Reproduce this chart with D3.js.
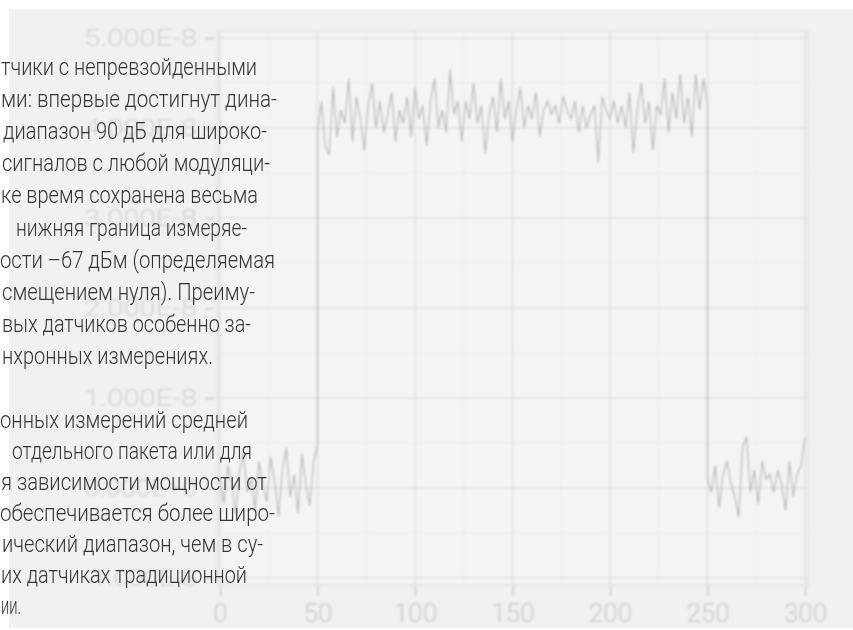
<!DOCTYPE html>
<html><head><meta charset="utf-8">
<script src="https://cdn.jsdelivr.net/npm/d3@7"></script>
<style>html,body{margin:0;padding:0;background:#fff;} svg{display:block}</style>
</head><body>
<svg id="c" width="853" height="630"></svg>
<script>
// ---- data (values in units of 1E-8) ----
const lowLeft = [0.12, -0.18, 0.25, 0.05, -0.30, 0.18, 0.40, -0.05, 0.10, -0.25, 0.30, 0.02, -0.15, 0.35, 0.08, -0.32, 0.20, 0.45, -0.10, 0.15, -0.28, 0.38, 0.05, -0.20, 0.30, 0.48];
const highLevel = [
  3.95, 4.30, 3.80, 3.70, 4.45, 3.90, 4.20, 4.05, 4.55, 3.85,
  4.35, 4.10, 3.75, 4.25, 4.50, 4.00, 4.30, 3.95, 4.15, 4.40,
  3.85, 4.20, 4.05, 4.35, 3.90, 4.45, 4.10, 4.25, 3.80, 4.30,
  4.55, 4.00, 4.20, 3.95, 4.65, 4.15, 4.30, 3.85, 4.30, 4.10,
  4.50, 4.05, 4.25, 3.72, 4.15, 4.35, 3.95, 4.55, 4.10, 4.30,
  3.85, 4.20, 4.45, 4.00, 4.25, 4.10, 4.40, 3.90, 4.20, 4.30,
  4.15, 4.25, 4.05, 4.35, 4.20, 4.10, 4.30, 3.95, 4.25, 4.00,
  4.15, 4.25, 3.62, 4.35, 4.20, 4.10, 4.30, 4.05, 4.25, 4.00,
  4.40, 3.72, 4.20, 4.50, 4.05, 4.30, 3.75, 4.25, 4.15, 4.55,
  3.95, 4.40, 4.10, 4.60, 4.05, 4.35, 3.90, 4.60, 4.20, 4.55,
  4.25
];
const lowRight = [0.10, -0.05, 0.25, -0.22, 0.15, 0.30, 0.05, -0.10, -0.32, 0.45, 0.57, -0.05, 0.20, -0.18, 0.30, 0.10, 0.15, -0.05, 0.20, 0.05, -0.25, 0.30, -0.10, 0.15, 0.25, 0.57];
const sampleStep = 2;
const xTicks = [0, 50, 100, 150, 200, 250, 300];
const yTicks = [-1, 0, 1, 2, 3, 4, 5];
const yTickLabels = ["-1.000E-8", "0.000E+0", "1.000E-8", "2.000E-8", "3.000E-8", "4.000E-8", "5.000E-8"];
const textLines = [
  "тчики с непревзойденными",
  "ми: впервые достигнут дина-",
  "диапазон 90 дБ для широко-",
  "сигналов с любой модуляци-",
  "ке время сохранена весьма",
  "нижняя граница измеряе-",
  "ости –67 дБм (определяемая",
  "смещением нуля). Преиму-",
  "вых датчиков особенно за-",
  "нхронных измерениях."
];
const textLines2 = [
  "онных измерений средней",
  "отдельного пакета или для",
  "я зависимости мощности от",
  "обеспечивается более широ-",
  "ический диапазон, чем в су-",
  "их датчиках традиционной",
  "ии."
];

// ---- layout ----
const svg = d3.select("#c");
const defs = svg.append("defs");
defs.append("filter").attr("id", "blur").attr("x", "-5%").attr("y", "-5%").attr("width", "110%").attr("height", "110%")
  .append("feGaussianBlur").attr("stdDeviation", 1.1);
defs.append("filter").attr("id", "soft")
  .append("feGaussianBlur").attr("stdDeviation", 0.35);

svg.append("rect").attr("x", 9).attr("y", 9).attr("width", 844).attr("height", 619).attr("fill", "#f1f1f1");

const plot = {l: 218, r: 808, t: 31, b: 585};
const x = d3.scaleLinear().domain([0, 300]).range([220, 805]);
const y = d3.scaleLinear().domain([-1, 5]).range([578, 38]);

const g = svg.append("g").attr("filter", "url(#blur)");
g.append("rect").attr("x", plot.l).attr("y", plot.t).attr("width", plot.r - plot.l).attr("height", plot.b - plot.t)
  .attr("fill", "#f4f4f4").attr("stroke", "#e2e2e2").attr("stroke-width", 1.5);

// minor grid
const xMinor = d3.range(25, 300, 50), yMinor = d3.range(-0.5, 5, 1);
g.selectAll(".xm").data(xMinor).join("line").attr("x1", d => x(d)).attr("x2", d => x(d))
  .attr("y1", plot.t).attr("y2", plot.b).attr("stroke", "#ededed").attr("stroke-width", 1);
g.selectAll(".ym").data(yMinor).join("line").attr("y1", d => y(d)).attr("y2", d => y(d))
  .attr("x1", plot.l).attr("x2", plot.r).attr("stroke", "#ededed").attr("stroke-width", 1);
// major grid
g.selectAll(".xg").data(xTicks).join("line").attr("x1", d => x(d)).attr("x2", d => x(d))
  .attr("y1", plot.t).attr("y2", plot.b).attr("stroke", "#e0e0e0").attr("stroke-width", 1.5);
g.selectAll(".yg").data(yTicks).join("line").attr("y1", d => y(d)).attr("y2", d => y(d))
  .attr("x1", plot.l).attr("x2", plot.r).attr("stroke", "#e0e0e0").attr("stroke-width", 1.5);

// axes
const yAxis = d3.axisLeft(y).tickValues(yTicks).tickSize(9).tickPadding(8)
  .tickFormat((d, i) => yTickLabels[i]);
const ya = g.append("g").attr("transform", "translate(214,0)").call(yAxis);
ya.select(".domain").remove();
ya.selectAll("line").attr("stroke", "#cdcdcd").attr("stroke-width", 1.5);
ya.selectAll("text").attr("fill", "#d4d4d4").style("font-family", "Roboto").style("font-weight", 300)
  .style("font-size", "23px").attr("textLength", 113).attr("lengthAdjust", "spacingAndGlyphs");

const xAxis = d3.axisBottom(x).tickValues(xTicks).tickSize(10).tickPadding(8).tickFormat(d => String(d));
const xa = g.append("g").attr("transform", "translate(0,586)").call(xAxis);
xa.select(".domain").remove();
xa.selectAll("line").attr("stroke", "#cdcdcd").attr("stroke-width", 1.5);
xa.selectAll("text").attr("fill", "#cbcbcb").style("font-family", "Roboto").style("font-weight", 300)
  .style("font-size", "26px");

// series
const pts = [
  ...lowLeft.map((v, i) => [i * sampleStep, v]),
  ...highLevel.map((v, i) => [50 + i * sampleStep, v]),
  ...lowRight.map((v, i) => [250 + i * sampleStep, v])
];
g.append("path").datum(pts).attr("fill", "none").attr("stroke", "#b8b8b8").attr("stroke-width", 1.3)
  .attr("d", d3.line().x(d => x(d[0])).y(d => y(d[1])));

// overlay text
const lineBox1 = [[1,257],[1,277],[3,267],[2,270],[1,258],[16,247],[0,275],[2,255],[2,251],[2,213]];
const lineBox2 = [[0,248],[12,252],[1,267],[0,275],[2,263],[1,247],[1,21]];
const tg = svg.append("g").attr("filter", "url(#soft)");
function para(lines, boxes, y0, step) {
  lines.forEach((t, i) => {
    const [x0, x1] = boxes[i];
    tg.append("text").attr("x", x0).attr("y", y0 + i * step + 7)
      .attr("fill", "#363636").style("font-family", "Roboto").style("font-weight", 300).style("font-size", "23px")
      .attr("textLength", x1 - x0).attr("lengthAdjust", "spacingAndGlyphs").text(t);
  });
}
para(textLines, lineBox1, 68, 32.1);
para(textLines2, lineBox2, 421, 31);
</script>
</body></html>
